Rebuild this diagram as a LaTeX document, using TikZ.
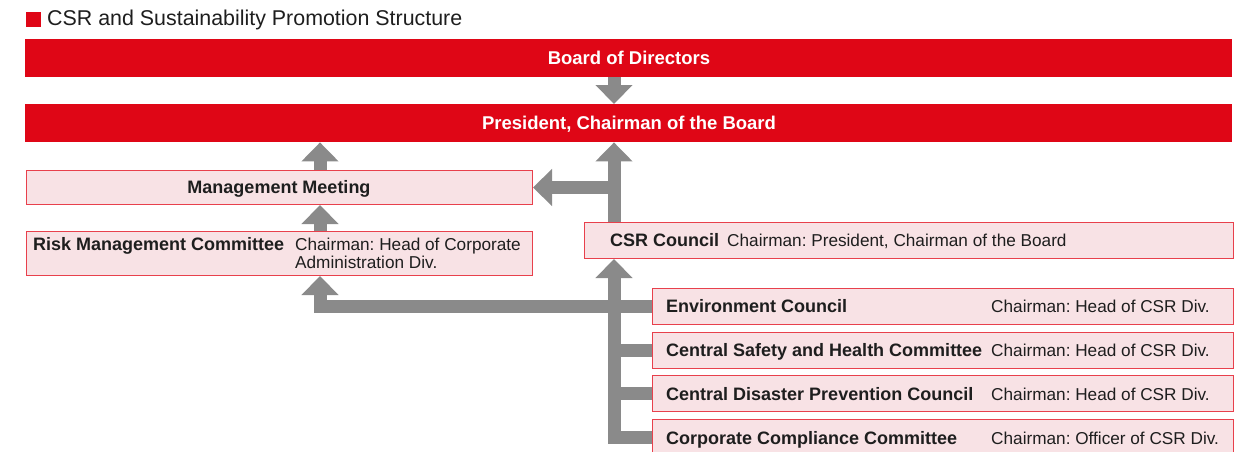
\documentclass[tikz,border=0pt]{standalone}
\usepackage{fontspec}
\setmainfont{Liberation Sans}
\usetikzlibrary{arrows.meta}
\definecolor{cred}{RGB}{223,6,22}
\definecolor{cpink}{RGB}{248,226,229}
\definecolor{cborder}{RGB}{232,64,76}
\definecolor{cgray}{RGB}{138,138,138}
\definecolor{ctext}{RGB}{30,30,30}
\frenchspacing
\begin{document}
\begin{tikzpicture}[x=1pt,y=-1pt,
  bar/.style={fill=cred, draw=none, inner sep=0pt, anchor=north west, minimum width=1207pt, minimum height=38pt},
  pbox/.style={fill=cpink, draw=cborder, line width=1pt, inner sep=0pt, anchor=north west},
  btxt/.style={font=\fontsize{18}{20}\selectfont\bfseries, text=ctext, inner sep=0pt},
  rtxt/.style={font=\fontsize{17.2}{19}\selectfont, text=ctext, inner sep=0pt},
  wtxt/.style={font=\fontsize{18.5}{20}\selectfont\bfseries, text=white, inner sep=0pt},
  conn/.style={draw=cgray, line width=13pt, line join=miter},
  arr/.style={conn, -{Triangle[width=36pt,length=19pt]}},
]
\useasboundingbox (0,0) rectangle (1239,452);
\clip (0,0) rectangle (1239,452);
% title
\fill[cred] (26,12) rectangle (41,27);
\node[anchor=base west, font=\fontsize{21.4}{24}\selectfont, text=ctext, inner sep=0pt] (title) at (47,26) {CSR and Sustainability Promotion Structure};
% column coordinates
\coordinate (cL) at (320,0);
\coordinate (cR) at (614,0);
% bars
\node[bar] (board) at (25,39) {};
\node[bar] (pres) at (25,104) {};
% boxes
\node[pbox, minimum width=506pt, minimum height=34pt] (mm) at (26,170) {};
\node[pbox, minimum width=506pt, minimum height=44pt] (risk) at (26,231) {};
\node[pbox, minimum width=649pt, minimum height=36pt] (csr) at (584,222) {};
\node[pbox, minimum width=581pt, minimum height=36pt] (env) at (652,288) {};
\node[pbox, minimum width=581pt, minimum height=36pt] (safety) at (652,332) {};
\node[pbox, minimum width=581pt, minimum height=36pt] (disaster) at (652,375) {};
\node[pbox, minimum width=581pt, minimum height=36pt] (comp) at (652,419) {};
% connectors
\draw[arr] (board.south -| cR) -- (pres.north -| cR);
\draw[arr] (mm.north -| cL) -- (pres.south -| cL);
\draw[arr] (risk.north -| cL) -- (mm.south -| cL);
\draw[arr] (csr.north -| cR) -- (pres.south -| cR);
\draw[arr] (csr.north -| cR) |- (mm.east);
\draw[arr] (comp.west) -| (csr.south -| cR);
\draw[conn] (safety.west) -- (safety.west -| cR);
\draw[conn] (disaster.west) -- (disaster.west -| cR);
\draw[arr] (env.west) -| (risk.south -| cL);
% texts
\node[wtxt, anchor=base] (tboard) at (629,64.5) {Board of Directors};
\node[wtxt, anchor=base] (tpres) at (629,129.5) {President, Chairman of the Board};
\node[btxt, anchor=base] (tmm) at (279,193.5) {Management Meeting};
\node[btxt, anchor=base west] (trisk) at (33,250.5) {Risk Management Committee};
\node[rtxt, anchor=base west] (trisk1) at (295,250.5) {Chairman: Head of Corporate};
\node[rtxt, anchor=base west] (trisk2) at (295,268.5) {Administration Div.};
\node[btxt, anchor=base west] (tcsr) at (610,246.5) {CSR Council};
\node[rtxt, anchor=base west] (tcsr1) at (727,246.5) {Chairman: President, Chairman of the Board};
\node[btxt, anchor=base west] (tenv) at (666,312.5) {Environment Council};
\node[rtxt, anchor=base west] (tenv1) at (991,312.5) {Chairman: Head of CSR Div.};
\node[btxt, anchor=base west] (tsaf) at (666,356.5) {Central Safety and Health Committee};
\node[rtxt, anchor=base west] (tsaf1) at (991,356.5) {Chairman: Head of CSR Div.};
\node[btxt, anchor=base west] (tdis) at (666,400) {Central Disaster Prevention Council};
\node[rtxt, anchor=base west] (tdis1) at (991,400) {Chairman: Head of CSR Div.};
\node[btxt, anchor=base west] (tcomp) at (666,444) {Corporate Compliance Committee};
\node[rtxt, anchor=base west] (tcomp1) at (991,444) {Chairman: Officer of CSR Div.};
\end{tikzpicture}
\end{document}
